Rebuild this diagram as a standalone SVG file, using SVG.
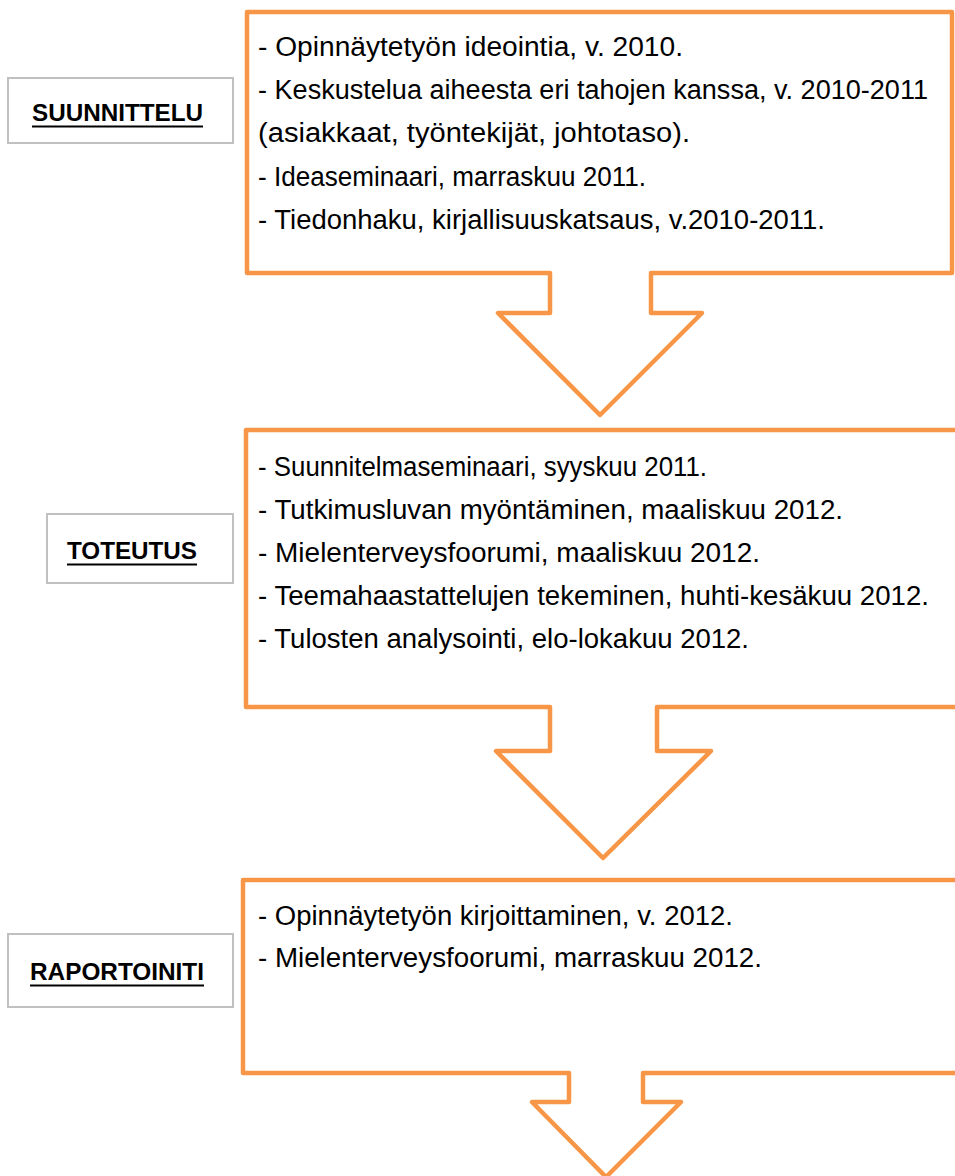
<svg xmlns="http://www.w3.org/2000/svg" width="955" height="1176" viewBox="0 0 955 1176">
<style>
.arrow{fill:#fff;stroke:#F79646;stroke-width:4.5;stroke-linejoin:round}
.lbl{fill:#fff;stroke:#C0C0C0;stroke-width:2}
.lt{font-family:"Liberation Sans",Arial,sans-serif;font-weight:bold;font-size:24px;fill:#000}
.ul{stroke:#000;stroke-width:2.2}
.bt{font-family:"Liberation Sans",Arial,sans-serif;font-size:27px;fill:#000}
</style>
<rect width="955" height="1176" fill="#fff"/>
<g id="stage1">
<path class="arrow" d="M247,12 H952 V273 H651 V313 H702 L600,415 L498,313 H550 V273 H247 Z"/>
<text class="bt" x="258" y="56" textLength="425" lengthAdjust="spacingAndGlyphs">- Opinnäytetyön ideointia, v. 2010.</text>
<text class="bt" x="258" y="99" textLength="670" lengthAdjust="spacingAndGlyphs">- Keskustelua aiheesta eri tahojen kanssa, v. 2010-2011</text>
<text class="bt" x="258" y="142" textLength="432" lengthAdjust="spacingAndGlyphs">(asiakkaat, työntekijät, johtotaso).</text>
<text class="bt" x="258" y="186" textLength="388" lengthAdjust="spacingAndGlyphs">- Ideaseminaari, marraskuu 2011.</text>
<text class="bt" x="258" y="229" textLength="567" lengthAdjust="spacingAndGlyphs">- Tiedonhaku, kirjallisuuskatsaus, v.2010-2011.</text>
</g>
<g id="label1">
<rect class="lbl" x="8" y="78" width="225" height="65"/>
<text class="lt" x="32" y="121" textLength="171" lengthAdjust="spacingAndGlyphs">SUUNNITTELU</text>
<line class="ul" x1="32" y1="126.5" x2="203" y2="126.5"/>
</g>
<g id="stage2">
<path class="arrow" d="M246,430 H962 V707 H657 V751 H711 L603,858 L496,751 H550 V707 H246 Z"/>
<text class="bt" x="258" y="476" textLength="449" lengthAdjust="spacingAndGlyphs">- Suunnitelmaseminaari, syyskuu 2011.</text>
<text class="bt" x="258" y="519" textLength="585" lengthAdjust="spacingAndGlyphs">- Tutkimusluvan myöntäminen, maaliskuu 2012.</text>
<text class="bt" x="258" y="562" textLength="502" lengthAdjust="spacingAndGlyphs">- Mielenterveysfoorumi, maaliskuu 2012.</text>
<text class="bt" x="258" y="605" textLength="671" lengthAdjust="spacingAndGlyphs">- Teemahaastattelujen tekeminen, huhti-kesäkuu 2012.</text>
<text class="bt" x="258" y="648" textLength="491" lengthAdjust="spacingAndGlyphs">- Tulosten analysointi, elo-lokakuu 2012.</text>
</g>
<g id="label2">
<rect class="lbl" x="47" y="514" width="186" height="69"/>
<text class="lt" x="67" y="559" textLength="130" lengthAdjust="spacingAndGlyphs">TOTEUTUS</text>
<line class="ul" x1="67" y1="564.5" x2="197" y2="564.5"/>
</g>
<g id="stage3">
<path class="arrow" d="M243,880 H962 V1073 H643 V1102 H681 L606,1177 L532,1102 H569 V1073 H243 Z"/>
<text class="bt" x="258" y="925" textLength="475" lengthAdjust="spacingAndGlyphs">- Opinnäytetyön kirjoittaminen, v. 2012.</text>
<text class="bt" x="258" y="967" textLength="504" lengthAdjust="spacingAndGlyphs">- Mielenterveysfoorumi, marraskuu 2012.</text>
</g>
<g id="label3">
<rect class="lbl" x="8" y="934" width="225" height="73"/>
<text class="lt" x="30" y="980" textLength="174" lengthAdjust="spacingAndGlyphs">RAPORTOINITI</text>
<line class="ul" x1="30" y1="985.5" x2="204" y2="985.5"/>
</g>
<g id="connectors"></g>
</svg>
